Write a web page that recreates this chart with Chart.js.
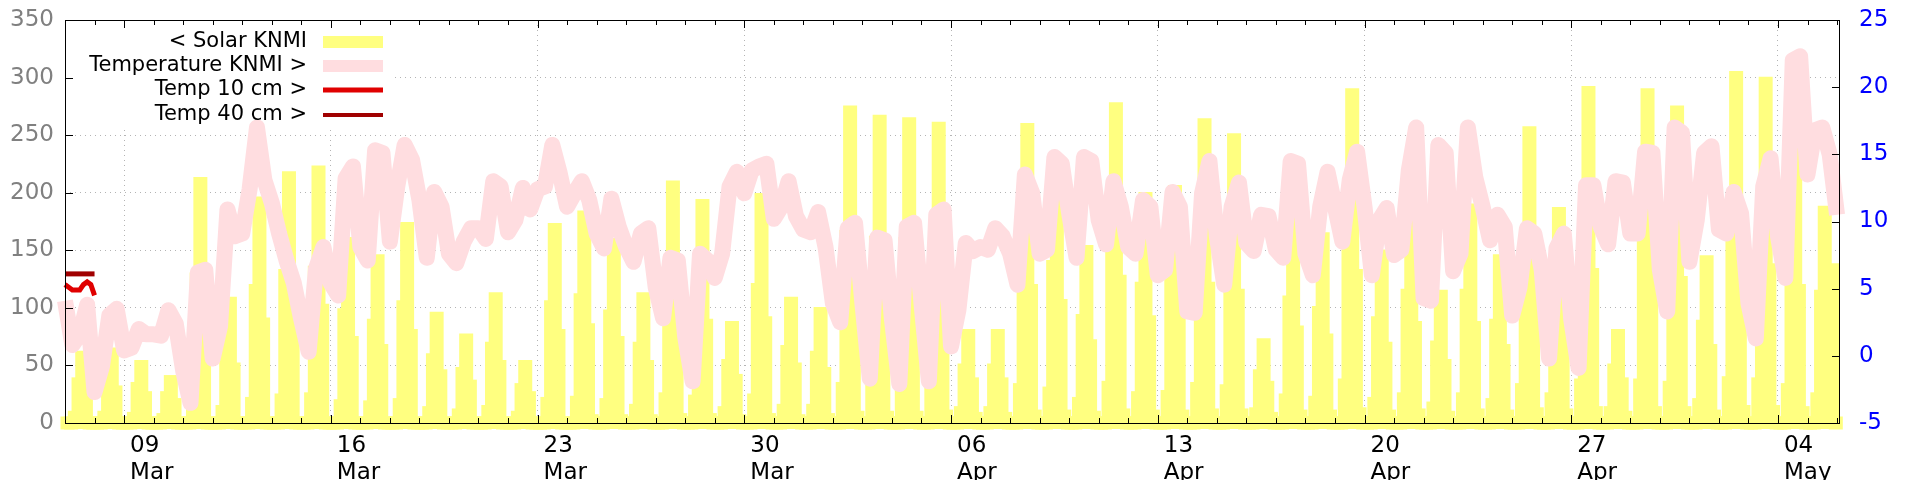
<!DOCTYPE html>
<html>
<head>
<meta charset="utf-8">
<script src="https://cdn.jsdelivr.net/npm/chart.js@4/dist/chart.umd.min.js"></script>
<style>
html, body { margin: 0; padding: 0; background: #fff; }
#wrap { width: 1920px; height: 480px; }
</style>
</head>
<body>
<div id="wrap"><canvas id="chart"></canvas></div>
<script>
// x values are days counted from 07 Mar 00:00

// solar (J/cm2 per hour), 8 readings per day at these hours
const solarHours = [2, 5, 8, 11, 14, 17, 20, 23];
const solarKNMI = [
    0,0,5,34,57,26,0,0,      0,0,5,36,60,27,0,0,      0,0,4,30,49,22,0,0,      0,0,3,22,36,16,0,0,
    0,0,18,125,208,95,0,0,   0,0,10,62,104,47,0,0,    0,0,17,115,191,86,0,0,   0,0,20,128,213,96,0,0,
    0,0,21,131,218,98,0,0,   0,0,15,94,156,70,0,0,    0,0,14,85,141,63,0,0,    0,0,16,101,169,76,0,0,
    0,0,9,55,91,41,0,0,      0,0,7,43,72,32,0,0,      0,0,10,65,108,49,0,0,    0,0,5,29,49,22,0,0,
    0,0,17,101,168,76,0,0,   0,0,18,107,179,81,2,0,   0,0,16,93,155,70,2,0,    0,0,11,65,108,49,2,0,
    0,0,21,123,205,92,3,0,   0,0,19,113,189,85,3,0,   0,0,9,50,83,37,2,0,      0,0,20,116,194,87,3,0,
    0,0,11,62,104,47,2,0,    0,0,11,57,95,43,3,0,     0,0,30,162,270,122,5,0,  0,0,29,157,262,118,5,0,
    0,0,29,156,260,117,5,0,  0,0,28,154,256,115,6,0,  0,0,9,46,76,34,4,0,      0,0,9,46,76,34,4,0,
    0,0,29,153,255,115,6,0,  0,0,26,136,226,102,6,0,  0,0,17,89,149,67,5,0,    0,0,31,164,273,123,7,0,
    0,0,22,117,195,88,6,0,   0,0,23,121,201,90,6,0,   0,0,30,155,259,117,7,0,  0,0,28,148,246,111,7,0,
    0,0,8,41,68,31,4,0,      0,0,20,105,175,79,6,0,   0,0,18,96,160,72,6,0,    0,0,33,171,285,128,8,0,
    0,0,17,87,145,65,6,0,    0,0,21,111,185,83,7,0,   0,0,13,66,110,50,5,0,    0,0,21,111,185,83,7,0,
    0,0,16,85,141,63,6,0,    0,0,29,151,252,113,8,0,  0,0,21,109,182,82,7,0,   0,0,33,172,287,129,9,0,
    0,0,9,46,76,34,5,0,      0,0,33,171,285,128,9,0,  0,0,31,162,270,122,9,0,  0,0,16,84,140,63,6,0,
    0,0,35,180,300,135,10,0, 0,0,34,177,295,133,10,0, 0,0,29,153,255,115,9,0,  0,0,21,110,183,40,133,0
];

// air temperature (deg C), 4 readings per day, last one is 06 May 00:00
const tempHours = [0, 6, 12, 18];
const tempKNMI = [
    4.1, 0.8, 1.6, 3.8,     -2.7, -0.8, 3.0, 3.5,    0.4, 0.6, 2.0, 1.6,      1.6, 1.5, 3.4, 2.4,
    -1.1, -3.5, 6.2, 6.4,   -0.2, 2.2, 10.9, 8.9,    9.1, 12.4, 17.0, 13.1,   11.4, 9.1, 7.1, 5.4,
    2.7, 0.3, 6.5, 8.1,     5.4, 4.5, 13.2, 14.1,    8.1, 7.1, 15.3, 15.1,    8.5, 12.6, 15.7, 14.6,
    11.6, 7.3, 12.2, 11.1,  7.6, 6.9, 8.5, 9.5,      9.5, 8.7, 13.0, 12.6,    9.2, 10.1, 12.5, 10.9,
    12.4, 12.6, 15.7, 13.6, 11.1, 12.1, 13.0, 11.6,  9.1, 8.0, 11.7, 9.6,     8.1, 7.0, 9.1, 9.5,
    5.1, 2.8, 7.3, 7.1,     1.4, -1.9, 7.6, 7.1,     5.8, 7.6, 12.6, 13.7,    12.1, 13.8, 14.1, 14.3,
    10.2, 11.1, 13.0, 10.4, 9.4, 9.2, 10.7, 8.1,     3.9, 2.5, 9.5, 9.9,      3.9, -1.7, 8.8, 8.6,
    2.7, -2.1, 9.6, 9.9,    3.9, -1.9, 10.5, 10.9,   0.7, 3.4, 8.4, 7.8,      8.1, 7.9, 9.5, 8.9,
    7.6, 5.3, 13.5, 12.1,   7.6, 7.9, 14.8, 14.3,    10.6, 7.3, 14.8, 14.5,   10.1, 8.3, 13.0, 11.1,
    8.1, 7.6, 11.6, 11.1,   6.0, 6.4, 12.2, 11.1,    3.3, 3.2, 12.1, 14.5,    8.9, 5.3, 11.1, 12.9,
    8.4, 7.8, 10.5, 10.4,   7.9, 7.3, 14.5, 14.3,    7.6, 6.0, 11.1, 13.7,    11.1, 8.5, 13.1, 15.2,
    11.1, 6.0, 10.1, 11.0,  7.5, 7.9, 13.8, 17.0,    4.3, 4.1, 15.7, 15.1,    6.3, 7.6, 17.0, 13.3,
    11.1, 8.6, 10.5, 9.6,   3.0, 5.1, 9.5, 9.1,      6.4, -0.2, 8.0, 9.1,     2.7, -0.9, 12.7, 12.7,
    9.6, 8.3, 13.0, 12.9,   9.1, 9.1, 15.2, 15.1,    6.4, 3.3, 17.0, 16.6,    7.0, 10.1, 15.1, 15.6,
    9.4, 9.1, 12.2, 10.6,   3.9, 1.3, 12.6, 14.7,    8.9, 5.8, 22.0, 22.3,    13.5, 16.8, 17.0, 15.0,
    10.5
];

// soil temperatures, only the first day is logged (hours from 07 Mar 00:00)
const soilHours = [0, 3, 6, 9, 12, 15, 18, 21, 24];
const temp10cm = [5.3, 5.1, 4.9, 4.9, 4.9, 5.3, 5.5, 5.3, 4.5];
const temp40cm = [6.1, 6.1, 6.1, 6.1, 6.1, 6.1, 6.1, 6.1, 6.1];

// weekly x labels
const weekDays = [2, 9, 16, 23, 30, 37, 44, 51, 58];
const weekDayLabels = ['09', '16', '23', '30', '06', '13', '20', '27', '04'];
const weekMonthLabels = ['Mar', 'Mar', 'Mar', 'Mar', 'Apr', 'Apr', 'Apr', 'Apr', 'May'];

const seriesNames = ['< Solar KNMI', 'Temperature KNMI >', 'Temp 10 cm >', 'Temp 40 cm >'];
const seriesColors = ['#ffff80', '#ffdde0', '#e00000', '#a00000'];

const solarPoints = solarKNMI.map((v, i) => ({ x: Math.floor(i / 8) + solarHours[i % 8] / 24, y: v }));
const tempPoints = tempKNMI.map((v, i) => ({ x: Math.floor(i / 4) + tempHours[i % 4] / 24, y: v }));
const t10Points = temp10cm.map((v, i) => ({ x: soilHours[i] / 24, y: v }));
const t40Points = temp40cm.map((v, i) => ({ x: soilHours[i] / 24, y: v }));

const FONT = 'DejaVu Sans';

// keep the plot box where gnuplot puts it, labels may hang over the edges
function fixAxis(size) {
    return axis => {
        if (axis.isHorizontal()) axis.height = size; else axis.width = size;
        axis.paddingTop = 0;
        axis.paddingBottom = 0;
        axis.paddingLeft = 0;
        axis.paddingRight = 0;
    };
}

// gnuplot style frame, inward ticks and the key in the top left corner
const gnuplotFrame = {
    id: 'gnuplotFrame',
    beforeDatasetsDraw(chart) {
        const a = chart.chartArea, c = chart.ctx;
        c.save();
        c.fillStyle = '#fff';
        c.fillRect(a.left + 1, a.top + 1, 327, 106);
        c.restore();
    },
    afterDraw(chart) {
        const a = chart.chartArea, c = chart.ctx;
        const xs = chart.scales.x, ys = chart.scales.y, ys1 = chart.scales.y1;
        c.save();
        c.strokeStyle = '#000';
        c.lineWidth = 1;
        c.beginPath();
        for (let d = 0; d <= 60; d++) {
            const px = Math.round(xs.getPixelForValue(d)) + 0.5;
            const len = weekDays.includes(d) ? 8 : 5;
            c.moveTo(px, a.bottom); c.lineTo(px, a.bottom - len);
            c.moveTo(px, a.top); c.lineTo(px, a.top + len);
        }
        for (let v = 0; v <= 350; v += 50) {
            const py = Math.round(ys.getPixelForValue(v)) + 0.5;
            c.moveTo(a.left, py); c.lineTo(a.left + 8, py);
        }
        for (let v = -5; v <= 25; v += 5) {
            const py = Math.round(ys1.getPixelForValue(v)) + 0.5;
            c.moveTo(a.right, py); c.lineTo(a.right - 8, py);
        }
        c.stroke();
        c.strokeRect(Math.round(a.left) + 0.5, Math.round(a.top) + 0.5, Math.round(a.right - a.left) - 1, Math.round(a.bottom - a.top));

        // key
        const rows = [42, 66, 90, 115];
        const widths = [12, 12, 5, 4];
        c.font = '21px "' + FONT + '"';
        c.textAlign = 'right';
        c.textBaseline = 'middle';
        c.fillStyle = '#000';
        rows.forEach((y, i) => {
            c.fillText(seriesNames[i], 307, y);
            c.beginPath();
            c.strokeStyle = seriesColors[i];
            c.lineWidth = widths[i];
            c.moveTo(323, y); c.lineTo(383, y);
            c.stroke();
        });
        c.restore();
    }
};

const ctx = document.getElementById('chart').getContext('2d');
new Chart(ctx, {
    type: 'bar',
    data: {
        datasets: [{
            type: 'bar',
            label: seriesNames[0],
            data: solarPoints,
            yAxisID: 'y',
            backgroundColor: seriesColors[0],
            borderWidth: 0,
            barThickness: 1,
            inflateAmount: 6.5,
            clip: false,
            order: 4
        }, {
            type: 'line',
            label: seriesNames[1],
            data: tempPoints,
            yAxisID: 'y1',
            borderColor: seriesColors[1],
            borderWidth: 16,
            borderJoinStyle: 'round',
            pointRadius: 0,
            clip: false,
            order: 3
        }, {
            type: 'line',
            label: seriesNames[2],
            data: t10Points,
            yAxisID: 'y1',
            borderColor: seriesColors[2],
            borderWidth: 5,
            pointRadius: 0,
            clip: false,
            order: 2
        }, {
            type: 'line',
            label: seriesNames[3],
            data: t40Points,
            yAxisID: 'y1',
            borderColor: seriesColors[3],
            borderWidth: 5,
            pointRadius: 0,
            clip: false,
            order: 1
        }]
    },
    options: {
        responsive: true,
        maintainAspectRatio: false,
        animation: false,
        events: [],
        layout: { padding: { top: 20, left: 0, right: 0, bottom: 0 } },
        plugins: {
            legend: { display: false },
            tooltip: { enabled: false }
        },
        scales: {
            x: {
                type: 'linear',
                min: 0,
                max: 60.1,
                offset: false,
                afterBuildTicks: axis => { axis.ticks = weekDays.map(v => ({ value: v })); },
                afterFit: fixAxis(57),
                grid: { offset: false, drawTicks: false, color: '#b4b4b4', lineWidth: 1 },
                border: { display: false, dash: [1, 4] },
                ticks: {
                    autoSkip: false,
                    maxRotation: 0,
                    align: 'start',
                    labelOffset: 6,
                    padding: 9,
                    color: '#000',
                    font: { family: FONT, size: 23 },
                    callback: value => {
                        const k = weekDays.indexOf(value);
                        return k < 0 ? '' : [weekDayLabels[k], weekMonthLabels[k]];
                    }
                }
            },
            y: {
                position: 'left',
                min: 0,
                max: 350,
                afterFit: fixAxis(65),
                grid: {
                    drawTicks: false,
                    lineWidth: 1,
                    color: c => (c.tick.value === 0 || c.tick.value === 350) ? 'rgba(0,0,0,0)' : '#b4b4b4'
                },
                border: { display: false, dash: [1, 4] },
                ticks: { stepSize: 50, padding: 11, color: '#808080', font: { family: FONT, size: 23 } }
            },
            y1: {
                position: 'right',
                min: -5,
                max: 25,
                afterFit: fixAxis(80),
                grid: { display: false, drawTicks: false },
                border: { display: false },
                ticks: { stepSize: 5, padding: 19, color: '#0000ff', font: { family: FONT, size: 23 } }
            }
        }
    },
    plugins: [gnuplotFrame]
});
</script>
</body>
</html>
